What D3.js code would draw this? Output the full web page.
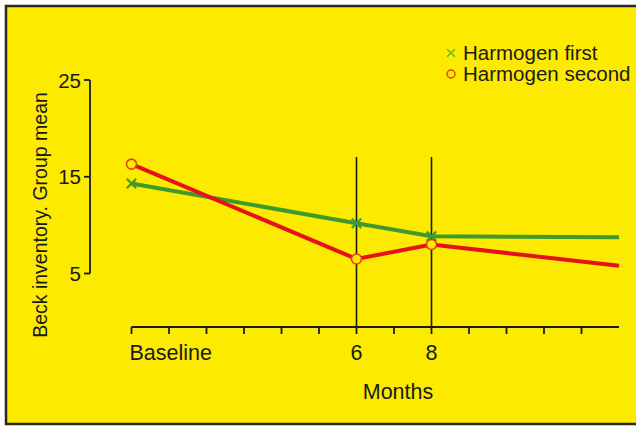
<!DOCTYPE html>
<html>
<head>
<meta charset="utf-8">
<script src="https://cdn.jsdelivr.net/npm/d3@7"></script>
<style>
  body { margin: 0; background: #fff; }
  svg text { font-family: "Liberation Sans", Arial, sans-serif; fill: #1a1a1a; }
</style>
</head>
<body>
<div class="chart"></div>
<script>
// months since start, last point is the end of the lines
const months = [0, 6, 8, 13];
const harmogenFirst = [14.3, 10.2, 8.85, 8.75];
const harmogenSecond = [16.3, 6.5, 8.0, 5.8];
const seriesNames = ['Harmogen first', 'Harmogen second'];
const yTicks = [5, 15, 25];
const xTicks = [0, 1, 2, 3, 4, 5, 6, 7, 8, 9, 10, 11, 12];
const xLabels = {0: 'Baseline', 6: '6', 8: '8'};
const markedMonths = [6, 8];

const width = 636;
const height = 427;
const svg = d3.select('.chart')
    .append('svg')
    .attr('width', width)
    .attr('height', height);

// yellow panel with dark frame (no frame on the right)
svg.append('rect')
    .attr('x', 6).attr('y', 6)
    .attr('width', width - 6).attr('height', 418)
    .attr('fill', '#fcea00');
svg.append('path')
    .attr('d', 'M' + width + ',6 H6 V424 H' + width)
    .attr('fill', 'none')
    .attr('stroke', '#2a2a1a')
    .attr('stroke-width', 2.5);

var x = d3.scaleLinear().domain([0, 13]).range([131.5, 619]);
var y = d3.scaleLinear().domain([5, 25]).range([273.5, 80]);

// y axis: bracket style, ticks to the left
const yAxis = svg.append('g');
yAxis.append('line')
    .attr('x1', 90).attr('x2', 90)
    .attr('y1', y(25)).attr('y2', y(5))
    .attr('stroke', '#1a1a1a').attr('stroke-width', 1.8);
yAxis.selectAll('.ytick')
    .data(yTicks)
    .enter()
    .append('line')
    .attr('class', 'ytick')
    .attr('x1', 84).attr('x2', 90)
    .attr('y1', d => y(d)).attr('y2', d => y(d))
    .attr('stroke', '#1a1a1a').attr('stroke-width', 1.8);
yAxis.selectAll('.ylab')
    .data(yTicks)
    .enter()
    .append('text')
    .attr('class', 'ylab')
    .attr('x', 81)
    .attr('y', d => y(d) + 7.5)
    .attr('text-anchor', 'end')
    .attr('font-size', 20.5)
    .text(d => d);

svg.append('text')
    .attr('transform', 'translate(47,215) rotate(-90)')
    .attr('text-anchor', 'middle')
    .attr('font-size', 19.5)
    .text('Beck inventory. Group mean');

// x axis: ticks hang below the line
const axisY = 327;
svg.append('line')
    .attr('x1', x(0)).attr('x2', x(13))
    .attr('y1', axisY).attr('y2', axisY)
    .attr('stroke', '#1a1a1a').attr('stroke-width', 1.8);
svg.selectAll('.xtick')
    .data(xTicks)
    .enter()
    .append('line')
    .attr('class', 'xtick')
    .attr('x1', d => x(d)).attr('x2', d => x(d))
    .attr('y1', axisY).attr('y2', axisY + 7)
    .attr('stroke', '#1a1a1a').attr('stroke-width', 1.8);
svg.selectAll('.xlab')
    .data(xTicks.filter(d => xLabels[d] != null))
    .enter()
    .append('text')
    .attr('class', 'xlab')
    .attr('x', d => d == 0 ? x(d) - 2 : x(d))
    .attr('y', 360)
    .attr('text-anchor', d => d == 0 ? 'start' : 'middle')
    .attr('font-size', 21.5)
    .text(d => xLabels[d]);
svg.append('text')
    .attr('x', 398).attr('y', 399)
    .attr('text-anchor', 'middle')
    .attr('font-size', 21.5)
    .text('Months');

// vertical markers at 6 and 8 months
svg.selectAll('.vline')
    .data(markedMonths)
    .enter()
    .append('line')
    .attr('class', 'vline')
    .attr('x1', d => x(d)).attr('x2', d => x(d))
    .attr('y1', 157).attr('y2', axisY)
    .attr('stroke', '#1a1a1a').attr('stroke-width', 1.6);

const green = '#3f9a2c';
const red = '#e5121b';

var line = d3.line()
    .x(d => x(d[0]))
    .y(d => y(d[1]));

const firstPts = months.map((m, i) => [m, harmogenFirst[i]]);
const secondPts = months.map((m, i) => [m, harmogenSecond[i]]);

svg.append('path')
    .attr('d', line(firstPts))
    .attr('fill', 'none')
    .attr('stroke', green)
    .attr('stroke-width', 4);
svg.append('path')
    .attr('d', line(secondPts))
    .attr('fill', 'none')
    .attr('stroke', red)
    .attr('stroke-width', 4);

// markers on the measured points (not on the line end)
const cross = d3.symbol().type(d3.symbolX).size(60);
svg.selectAll('.xmark')
    .data(firstPts.slice(0, 3))
    .enter()
    .append('path')
    .attr('class', 'xmark')
    .attr('d', cross)
    .attr('transform', d => 'translate(' + x(d[0]) + ',' + y(d[1]) + ')')
    .attr('stroke', green)
    .attr('stroke-width', 2.2);
svg.selectAll('.omark')
    .data(secondPts.slice(0, 3))
    .enter()
    .append('circle')
    .attr('class', 'omark')
    .attr('cx', d => x(d[0]))
    .attr('cy', d => y(d[1]))
    .attr('r', 5)
    .attr('fill', '#fcea00')
    .attr('stroke', '#ec3a12')
    .attr('stroke-width', 1.6);

// legend
const legend = svg.append('g');
legend.append('path')
    .attr('d', d3.symbol().type(d3.symbolX).size(40))
    .attr('transform', 'translate(451,53)')
    .attr('stroke', '#5cb82a')
    .attr('stroke-width', 1.4);
legend.append('circle')
    .attr('cx', 451).attr('cy', 74)
    .attr('r', 4)
    .attr('fill', 'none')
    .attr('stroke', '#ec3a12')
    .attr('stroke-width', 1.4);
legend.selectAll('.legtext')
    .data(seriesNames)
    .enter()
    .append('text')
    .attr('class', 'legtext')
    .attr('x', 463)
    .attr('y', (d, i) => 59.5 + i * 21)
    .attr('font-size', 20.5)
    .text(d => d);
</script>
</body>
</html>
